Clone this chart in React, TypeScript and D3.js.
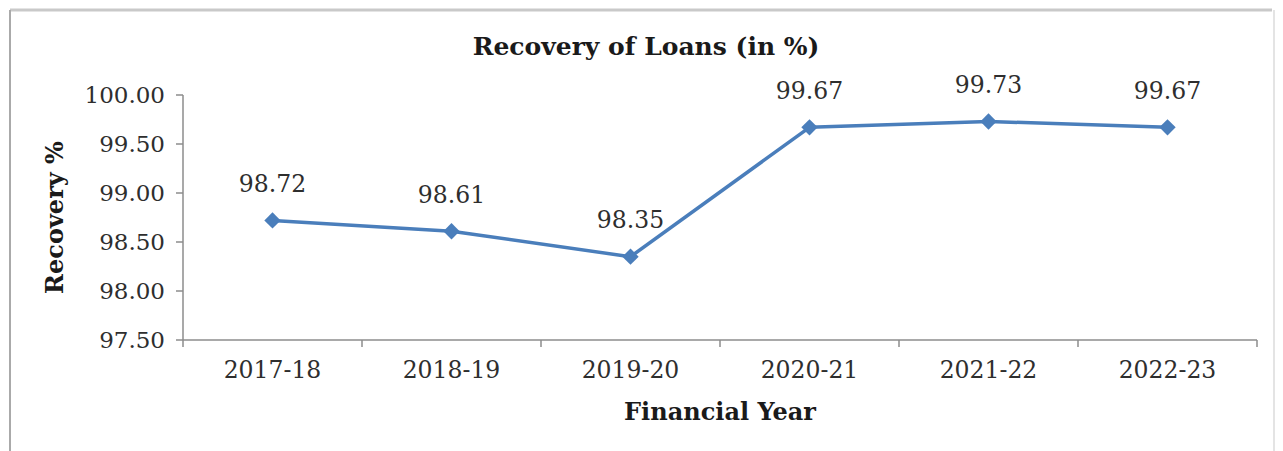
import React from "react";
import * as d3 from "d3";

// Financial years and loan-recovery percentages
const years = ["2017-18", "2018-19", "2019-20", "2020-21", "2021-22", "2022-23"];
const recovery = [98.72, 98.61, 98.35, 99.67, 99.73, 99.67];
const yTicks = [97.5, 98.0, 98.5, 99.0, 99.5, 100.0];

const W = 1283;
const H = 451;
const FONT = "'DejaVu Serif', serif";
const LINE = "#4a7ebb";
const AXIS = "#8c8c8c";

export default function App() {
  const x = d3.scaleBand<string>().domain(years).range([183, 1257]).padding(0);
  const y = d3.scaleLinear().domain([97.5, 100]).range([340, 95]);

  const pts = years.map((yr, i) => ({
    yr,
    v: recovery[i],
    cx: (x(yr) ?? 0) + x.bandwidth() / 2,
    cy: y(recovery[i]),
  }));

  const line = d3
    .line<{ cx: number; cy: number }>()
    .x((d) => d.cx)
    .y((d) => d.cy);

  const diamond = d3.symbol().type(d3.symbolDiamond2).size(170)() ?? "";

  const [y0, y1] = y.range();
  const [x0, x1] = x.range();

  return (
    <div style={{ position: "fixed", left: 0, top: 0 }}>
      <svg width={W} height={H} style={{ display: "block", background: "#fff" }}>
        {/* chart frame */}
        <line x1={10} y1={10} x2={1272} y2={10} stroke="#c9c9c9" strokeWidth={3} />
        <line x1={10} y1={10} x2={10} y2={H} stroke="#aaaaaa" strokeWidth={2} />
        <line x1={1274} y1={10} x2={1274} y2={H} stroke="#e4e4e4" strokeWidth={2} />

        {/* title */}
        <text
          x={646}
          y={55}
          textAnchor="middle"
          fontFamily={FONT}
          fontWeight="bold"
          fontSize={25}
          fill="#1a1a1a"
        >
          Recovery of Loans (in %)
        </text>

        {/* y axis */}
        <line x1={x0} y1={y1} x2={x0} y2={y0} stroke={AXIS} strokeWidth={1.5} />
        {yTicks.map((t) => (
          <g key={t}>
            <line x1={x0 - 7} x2={x0} y1={y(t)} y2={y(t)} stroke={AXIS} strokeWidth={1.5} />
            <text
              x={165}
              y={y(t)}
              dy="0.36em"
              textAnchor="end"
              fontFamily={FONT}
              fontSize={23}
              fill="#2e2e2e"
            >
              {d3.format(".2f")(t)}
            </text>
          </g>
        ))}
        <text
          transform={`translate(55, ${(y0 + y1) / 2}) rotate(-90)`}
          dy="0.35em"
          textAnchor="middle"
          fontFamily={FONT}
          fontWeight="bold"
          fontSize={24}
          fill="#1a1a1a"
        >
          Recovery %
        </text>

        {/* x axis */}
        <line x1={x0} y1={y0} x2={x1} y2={y0} stroke={AXIS} strokeWidth={1.5} />
        {[...years.map((yr) => x(yr) ?? 0), x1].map((tx, i) => (
          <line key={i} x1={tx} x2={tx} y1={y0} y2={y0 + 7} stroke={AXIS} strokeWidth={1.5} />
        ))}
        {pts.map((p) => (
          <text
            key={p.yr}
            x={p.cx}
            y={378}
            textAnchor="middle"
            fontFamily={FONT}
            fontSize={23.5}
            fill="#2e2e2e"
          >
            {p.yr}
          </text>
        ))}
        <text
          x={(x0 + x1) / 2}
          y={420}
          textAnchor="middle"
          fontFamily={FONT}
          fontWeight="bold"
          fontSize={24}
          fill="#1a1a1a"
        >
          Financial Year
        </text>

        {/* series */}
        <path d={line(pts) ?? ""} fill="none" stroke={LINE} strokeWidth={3.5} strokeLinejoin="round" />
        {pts.map((p) => (
          <path key={p.yr} d={diamond} transform={`translate(${p.cx},${p.cy})`} fill={LINE} />
        ))}
        {pts.map((p) => (
          <text
            key={p.yr}
            x={p.cx}
            y={p.cy - 37}
            dy="0.36em"
            textAnchor="middle"
            fontFamily={FONT}
            fontSize={23.5}
            fill="#2e2e2e"
          >
            {d3.format(".2f")(p.v)}
          </text>
        ))}
      </svg>
    </div>
  );
}
